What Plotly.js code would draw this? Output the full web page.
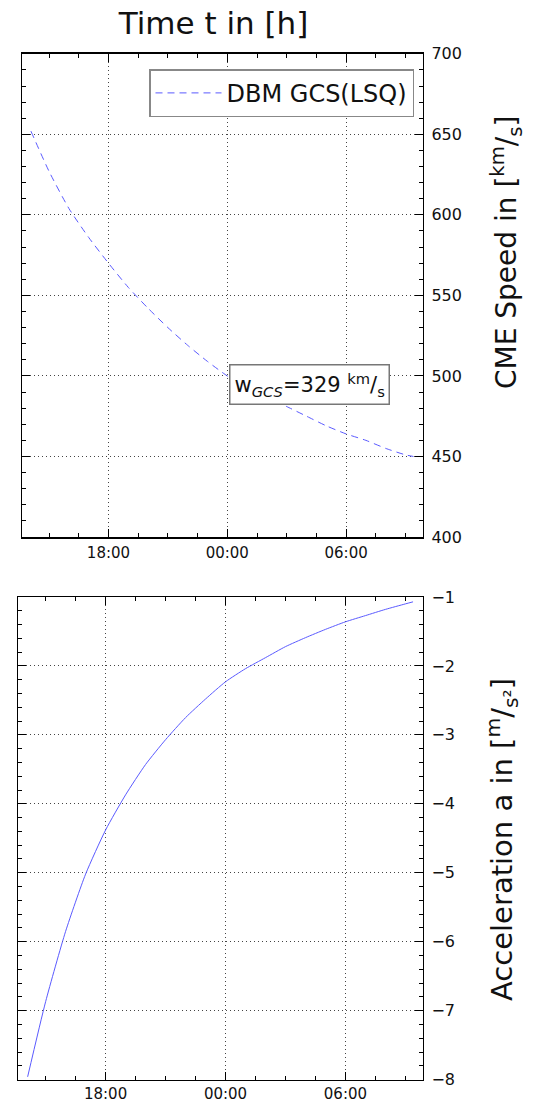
<!DOCTYPE html>
<html>
<head>
<meta charset="utf-8">
<script src="https://cdn.plot.ly/plotly-3.0.1.min.js"></script>
<style>html,body{margin:0;padding:0;background:#fff;}</style>
</head>
<body>
<div id="chart" style="width:533px;height:1102px;"></div>
<script>
// Speed (DBM GCS LSQ)
const speedTimes = ['2000-01-01 14:05','2000-01-01 15:00','2000-01-01 16:00','2000-01-01 17:00','2000-01-01 18:00','2000-01-01 19:00','2000-01-01 20:00','2000-01-01 21:00','2000-01-01 22:00','2000-01-01 23:00','2000-01-02 00:00','2000-01-02 01:00','2000-01-02 02:00','2000-01-02 03:00','2000-01-02 04:00','2000-01-02 05:00','2000-01-02 06:00','2000-01-02 07:00','2000-01-02 08:00','2000-01-02 09:00','2000-01-02 09:24'];
const speedValues = [652, 627, 604, 586, 570, 555, 542, 530, 519, 509, 500, 493, 487, 481, 475, 469, 464, 460, 455, 451, 450];
// Acceleration
const accTimes = ['2000-01-01 14:06','2000-01-01 15:00','2000-01-01 16:00','2000-01-01 17:00','2000-01-01 18:00','2000-01-01 19:00','2000-01-01 20:00','2000-01-01 21:00','2000-01-01 22:00','2000-01-01 23:00','2000-01-02 00:00','2000-01-02 01:00','2000-01-02 02:00','2000-01-02 03:00','2000-01-02 04:00','2000-01-02 05:00','2000-01-02 06:00','2000-01-02 07:00','2000-01-02 08:00','2000-01-02 09:00','2000-01-02 09:23'];
const accValues = [-7.96, -6.87, -5.85, -5.02, -4.38, -3.87, -3.43, -3.07, -2.75, -2.48, -2.23, -2.04, -1.88, -1.72, -1.59, -1.47, -1.36, -1.27, -1.18, -1.10, -1.07];
const legendName = 'DBM GCS(LSQ)';
const wGCS = 329;
const xRange = ['2000-01-01 13:38','2000-01-02 09:52'];

const W = 533, H = 1102;
const px = v => v / W;
const py = v => 1 - v / H;

const lineColor = '#5a5aff';
const traces = [
  {x: speedTimes, y: speedValues, xaxis: 'x', yaxis: 'y', type: 'scatter', mode: 'lines',
   name: legendName, line: {color: lineColor, width: 1, dash: '7px,5px', shape: 'spline', smoothing: 0.6}},
  {x: accTimes, y: accValues, xaxis: 'x2', yaxis: 'y2', type: 'scatter', mode: 'lines',
   showlegend: false, line: {color: lineColor, width: 1, shape: 'spline', smoothing: 0.6}}
];

function xAx(domain, anchor, standoff) {
  return {
    domain: domain, anchor: anchor, type: 'date', range: xRange,
    tickformat: '%H:%M', dtick: 21600000, tick0: '2000-01-01 00:00',
    ticks: 'inside', ticklen: 8, tickwidth: 1, tickcolor: '#000',
    showline: true, linecolor: '#000', linewidth: 1.5, mirror: 'ticks',
    showgrid: true, gridcolor: '#444', griddash: '1px,3px', gridwidth: 1,
    minor: {dtick: 5400000, tick0: '2000-01-01 00:00', ticks: 'inside', ticklen: 4, tickcolor: '#000', showgrid: false},
    zeroline: false, ticklabelstandoff: standoff, tickfont: {size: 15, color: '#111'},
    automargin: false, fixedrange: true
  };
}
function yAx(domain, anchor, range, dtick, mdtick) {
  return {
    domain: domain, anchor: anchor, side: 'right', range: range, dtick: dtick,
    ticks: 'inside', ticklen: 8, tickwidth: 1, tickcolor: '#000',
    showline: true, linecolor: '#000', linewidth: 1.5, mirror: 'ticks',
    showgrid: true, gridcolor: '#444', griddash: '1px,3px', gridwidth: 1,
    minor: {dtick: mdtick, ticks: 'inside', ticklen: 4, tickcolor: '#000', showgrid: false},
    zeroline: false, ticklabelstandoff: 4, tickfont: {size: 16, color: '#111'},
    automargin: false, fixedrange: true
  };
}

const layout = {
  width: W, height: H,
  margin: {l: 0, r: 0, t: 0, b: 0},
  paper_bgcolor: '#fff', plot_bgcolor: '#fff',
  font: {family: 'DejaVu Sans', color: '#000', size: 16},
  title: {text: 'Time t in [h]', x: px(213.5), xanchor: 'center', y: py(23), yanchor: 'middle',
          font: {size: 31, color: '#111'}},
  xaxis: xAx([px(22), px(422.7)], 'y', 1),
  yaxis: yAx([py(537), py(53.8)], 'x', [400, 700], 50, 10),
  xaxis2: xAx([px(18.3), px(422.7)], 'y2', 0),
  yaxis2: yAx([py(1079.6), py(597)], 'x2', [-8, -1], 1, 0.2),
  showlegend: true,
  legend: {x: px(414), y: py(69.3), xanchor: 'right', yanchor: 'top',
           bordercolor: '#888', borderwidth: 1.5, bgcolor: '#fff',
           font: {size: 24, color: '#111'}, itemwidth: 66},
  annotations: [
    {text: 'w<sub><i>GCS</i></sub>=' + wGCS + ' <sup>km</sup>/<sub>s</sub>', x: px(309.3), y: py(384.5),
     xref: 'paper', yref: 'paper', xanchor: 'center', yanchor: 'middle', showarrow: false, bgcolor: '#fff', bordercolor: '#777',
     borderwidth: 1.5, borderpad: 4, font: {size: 21, color: '#111'}},
    {text: 'CME Speed in [<sup>km</sup>/<sub>s</sub>]', textangle: -90, x: px(506), y: py(253),
     xref: 'paper', yref: 'paper', xanchor: 'center', yanchor: 'middle', showarrow: false, font: {size: 28, color: '#111'}},
    {text: 'Acceleration a in [<sup>m</sup>/<sub>s²</sub>]', textangle: -90, x: px(502), y: py(840),
     xref: 'paper', yref: 'paper', xanchor: 'center', yanchor: 'middle', showarrow: false, font: {size: 29, color: '#111'}}
  ]
};

Plotly.newPlot('chart', traces, layout, {displayModeBar: false, staticPlot: true});
</script>
</body>
</html>
